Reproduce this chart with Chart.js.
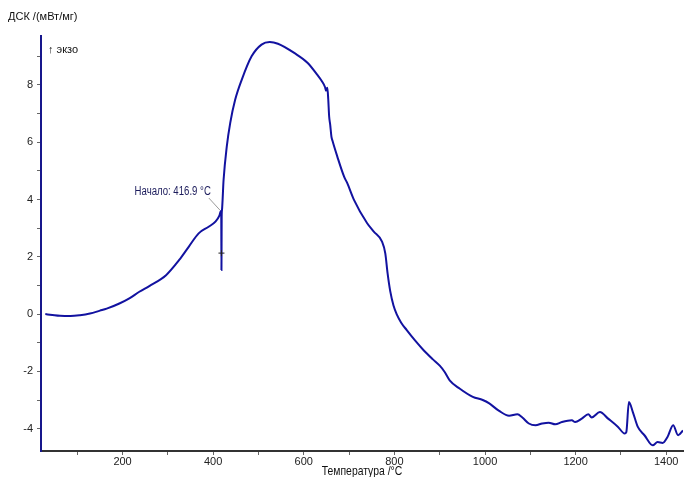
<!DOCTYPE html>
<html>
<head>
<meta charset="utf-8">
<script src="https://cdn.jsdelivr.net/npm/chart.js@4.4.1/dist/chart.umd.min.js"></script>
<style>
html,body{margin:0;padding:0;background:#fff;}
#wrap{width:688px;height:477px;position:relative;}
</style>
</head>
<body>
<div id="wrap"><canvas id="c" width="688" height="477"></canvas></div>
<script>
// ---- data ----
const temps = [29.5,45,62,85,106,128,150,165,193,215,237,259,296,325,346,368,390,405,414,416.9,417.8,418.3,418.8,419.5,
  423,430,437.6,448.5,463,484.8,506.7,525,543,579.7,608.7,630,640,647,649,652,654,656,658.4,661,663.4,674,689,696,710.8,
  739.9,754.5,772.7,779.9,785,790.8,798,805.5,815,827.3,845.5,865,885,900.1,911,922,943.8,973.1,995,1009.4,1031.2,
  1053.1,1071.5,1082.4,1096.8,1111.5,1126.1,1140.5,1155.2,1169.8,1191.7,1198.9,1213.6,1228,1235.4,1253.6,1271.7,1293.6,
  1308.2,1311.9,1317.6,1326.3,1337.3,1351.9,1370.1,1381,1392,1402.8,1415.3,1426.2,1437];
const dsc = [0.00,-0.03,-0.06,-0.07,-0.04,0.02,0.12,0.19,0.37,0.55,0.78,0.98,1.36,1.89,2.35,2.82,3.05,3.23,3.45,3.60,3.50,1.54,3.40,3.64,
  4.69,5.85,6.67,7.48,8.18,9.00,9.41,9.50,9.44,9.11,8.77,8.35,8.13,7.92,7.80,7.90,7.50,6.90,6.60,6.20,6.05,5.50,4.80,4.57,3.99,
  3.17,2.88,2.53,2.12,1.42,0.80,0.30,-0.02,-0.30,-0.56,-0.92,-1.27,-1.58,-1.80,-2.02,-2.31,-2.60,-2.89,-3.00,-3.12,-3.38,
  -3.55,-3.50,-3.61,-3.82,-3.88,-3.82,-3.79,-3.85,-3.77,-3.71,-3.77,-3.65,-3.50,-3.61,-3.42,-3.65,-3.94,
  -4.17,-4.12,-3.07,-3.42,-3.94,-4.23,-4.58,-4.47,-4.50,-4.29,-3.88,-4.23,-4.06];
const onset = [416.9, 3.60];
const crossMark = [418.3, 2.13];
const xRange = [20, 1437];
const yRange = [-4.78, 9.71];
const xLabelTicks = [200, 400, 600, 800, 1000, 1200, 1400];
const yLabelTicks = [-4, -2, 0, 2, 4, 6, 8];
const xTitle = 'Температура /°C';
const yTitle = 'ДСК /(мВт/мг)';
const exoLabel = '↑ экзо';
const onsetLabel = 'Начало: 416.9 °C';

const regular = '"Liberation Sans",Arial,sans-serif';

const points = temps.map((t, i) => ({x: t, y: dsc[i]}));

function narrowText(ctx, text, x, y, sx, align) {
  ctx.save();
  ctx.translate(x, y);
  ctx.scale(sx, 1);
  ctx.textAlign = align;
  ctx.fillText(text, 0, 0);
  ctx.restore();
}

const textPlugin = {
  id: 'texts',
  afterDraw(chart) {
    const ctx = chart.ctx, xs = chart.scales.x, ys = chart.scales.y, ca = chart.chartArea;
    ctx.save();
    ctx.fillStyle = '#111';
    ctx.font = '11px ' + regular;
    ctx.textBaseline = 'middle';
    ctx.textAlign = 'left';
    ctx.fillText(yTitle, 8, 17);
    ctx.font = '11px ' + regular;
    ctx.fillText(exoLabel, 48, 50);
    // onset annotation
    const px = xs.getPixelForValue(onset[0]), py = ys.getPixelForValue(onset[1]);
    ctx.strokeStyle = '#9a9a9a';
    ctx.lineWidth = 1;
    ctx.beginPath();
    ctx.moveTo(px - 12, py - 13);
    ctx.lineTo(px - 1, py - 1);
    ctx.stroke();
    ctx.fillStyle = '#1c1c5c';
    ctx.font = '12px ' + regular;
    narrowText(ctx, onsetLabel, px - 10, py - 19, 0.8, 'right');
    // x axis title
    ctx.fillStyle = '#111';
    ctx.font = '13px ' + regular;
    narrowText(ctx, xTitle, (ca.left + ca.right) / 2, 471, 0.8, 'center');
    ctx.restore();
  }
};

new Chart(document.getElementById('c'), {
  type: 'scatter',
  data: {
    datasets: [{
      data: points,
      showLine: true,
      borderColor: '#1212a0',
      borderWidth: 2,
      pointRadius: 0,
      cubicInterpolationMode: 'monotone',
      fill: false,
      order: 2
    }, {
      data: [{x: crossMark[0], y: crossMark[1]}],
      pointStyle: 'cross',
      pointRadius: 3,
      borderColor: '#222',
      borderWidth: 1,
      order: 1
    }]
  },
  options: {
    responsive: false,
    animation: false,
    layout: {padding: {top: 36, left: 0, right: 0, bottom: 0}},
    plugins: {legend: {display: false}, tooltip: {enabled: false}, title: {display: false}},
    scales: {
      x: {
        type: 'linear',
        min: xRange[0], max: xRange[1],
        afterFit(s) { s.height = 26; },
        border: {display: true, color: '#333', width: 2},
        grid: {display: true, drawOnChartArea: false, drawTicks: true, tickLength: 4, color: '#666', tickWidth: 1},
        ticks: {
          stepSize: 100, includeBounds: false, autoSkip: false, maxRotation: 0, padding: 0,
          color: '#222', font: {family: regular, size: 11},
          callback: v => xLabelTicks.includes(v) ? String(v) : ''
        },
        title: {display: false}
      },
      y: {
        type: 'linear',
        min: yRange[0], max: yRange[1],
        afterFit(s) { s.width = 41; },
        border: {display: true, color: '#16168c', width: 2},
        grid: {display: true, drawOnChartArea: false, drawTicks: true, tickLength: 4, color: '#666', tickWidth: 1},
        ticks: {
          stepSize: 1, includeBounds: false, autoSkip: false, padding: 4,
          color: '#222', font: {family: regular, size: 11},
          callback: v => yLabelTicks.includes(v) ? String(v) : ''
        }
      }
    }
  },
  plugins: [textPlugin]
});
</script>
</body>
</html>
